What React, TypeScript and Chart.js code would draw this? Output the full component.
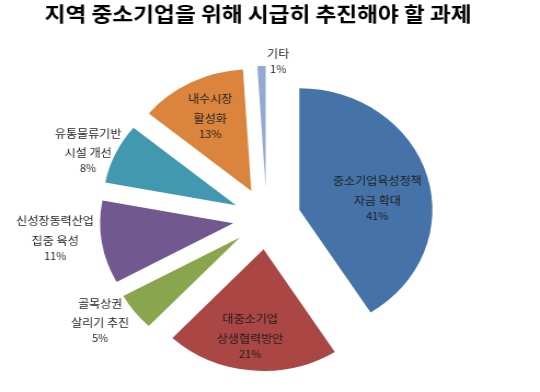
import React, { useEffect, useRef } from 'react';
import { Chart, registerables } from 'chart.js';

Chart.register(...registerables);

const TITLE = '지역 중소기업을 위해 시급히 추진해야 할 과제';
const categories = [
  '중소기업육성정책 자금 확대',
  '대중소기업 상생협력방안',
  '골목상권 살리기 추진',
  '신성장동력산업 집중 육성',
  '유통물류기반 시설 개선',
  '내수시장 활성화',
  '기타',
];
const labelLines = [
  ['중소기업육성정책', '자금 확대'],
  ['대중소기업', '상생협력방안'],
  ['골목상권', '살리기 추진'],
  ['신성장동력산업', '집중 육성'],
  ['유통물류기반', '시설 개선'],
  ['내수시장', '활성화'],
  ['기타'],
];
const values = [41, 21, 5, 11, 8, 13, 1];
const colors = ['#4572A7', '#AA4643', '#89A54E', '#71588F', '#4198AF', '#DB843D', '#93A9CF'];

// label placement (styling): distance from slice tip as fraction of radius, angle shift in degrees
const labelDist = [0.593, 0.724, 1.255, 1.344, 1.198, 0.686, 1.041];
const labelShift = [7.1, 2.6, 4.6, 3.7, -3.3, 0.3, 7];

const STRETCH = 1.095; // the reference picture is horizontally stretched
const CSS_W = 540;
const CSS_H = 392;
const INNER_W = Math.round(CSS_W / STRETCH);
const EXPLODE = 31;
const RADIUS = 121.5;
const KFONT = '"Noto Sans CJK KR", "Noto Sans", sans-serif';

const explodePlugin = {
  id: 'explode',
  afterDatasetsUpdate(chart: any) {
    const meta = chart.getDatasetMeta(0);
    meta.data.forEach((arc: any) => {
      const mid = (arc.startAngle + arc.endAngle) / 2;
      arc.x = arc.x + Math.cos(mid) * EXPLODE;
      arc.y = arc.y + Math.sin(mid) * EXPLODE;
    });
  },
};

const labelPlugin = {
  id: 'sliceLabels',
  afterDatasetsDraw(chart: any) {
    const ctx = chart.ctx;
    const meta = chart.getDatasetMeta(0);
    ctx.save();
    ctx.textAlign = 'center';
    ctx.textBaseline = 'middle';
    ctx.fillStyle = '#1e1e1e';
    meta.data.forEach((arc: any, i: number) => {
      const mid = (arc.startAngle + arc.endAngle) / 2 + (labelShift[i] * Math.PI) / 180;
      const r = arc.outerRadius * labelDist[i];
      const cx = arc.x + Math.cos(mid) * r;
      const cy = arc.y + Math.sin(mid) * r;
      const names = labelLines[i];
      const ys: number[] = [];
      names.forEach((_, k) => ys.push(k * 19.5));
      const pctY = ys[ys.length - 1] + 15.5;
      const off = (ys[0] + pctY) / 2;
      ctx.font = '11px ' + KFONT;
      names.forEach((t, k) => ctx.fillText(t, cx, cy + ys[k] - off));
      ctx.font = '10px ' + KFONT;
      ctx.fillText(values[i] + '%', cx, cy + pctY - off);
    });
    ctx.restore();
  },
};

const titlePlugin = {
  id: 'customTitle',
  afterDraw(chart: any) {
    const ctx = chart.ctx;
    ctx.save();
    ctx.font = 'bold 20.7px ' + KFONT;
    ctx.fillStyle = '#000';
    ctx.textAlign = 'center';
    ctx.textBaseline = 'middle';
    ctx.fillText(TITLE, chart.width * 0.478, 14);
    ctx.restore();
  },
};

export default function App() {
  const ref = useRef<HTMLCanvasElement | null>(null);
  useEffect(() => {
    document.body.style.margin = '0';
    if (!ref.current) return;
    const chart = new Chart(ref.current, {
      type: 'pie',
      data: {
        labels: categories,
        datasets: [
          {
            data: values,
            backgroundColor: colors,
            borderWidth: 0,
            radius: RADIUS,
          } as any,
        ],
      },
      options: {
        animation: false,
        responsive: false,
        layout: { padding: { top: 50, bottom: 5, left: 0, right: 6 } },
        plugins: {
          legend: { display: false },
          tooltip: { enabled: false },
          title: { display: false },
        },
      },
      plugins: [explodePlugin, labelPlugin, titlePlugin],
    });
    return () => chart.destroy();
  }, []);
  return (
    <div style={{ width: CSS_W, height: CSS_H, background: '#fff' }}>
      <canvas
        ref={ref}
        width={INNER_W}
        height={CSS_H}
        style={{ width: CSS_W, height: CSS_H, display: 'block' }}
      />
    </div>
  );
}
